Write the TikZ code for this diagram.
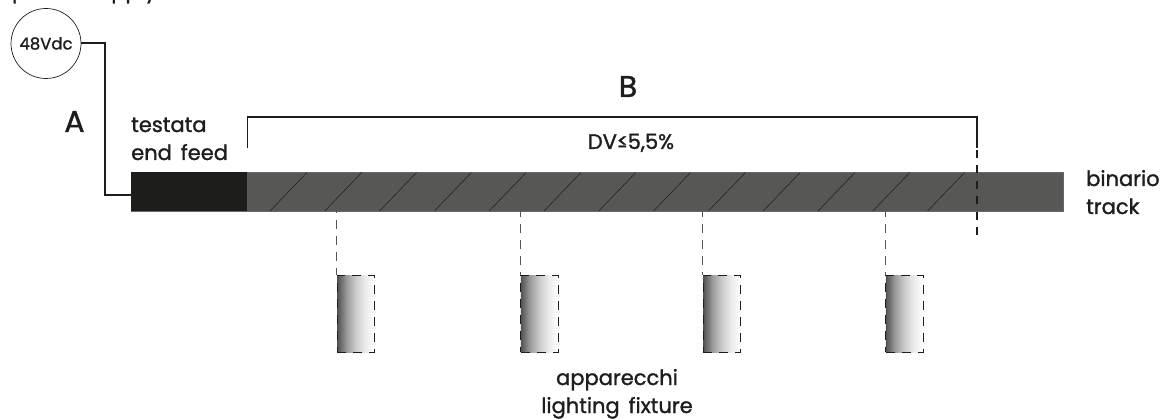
\documentclass[tikz,border=0pt]{standalone}
\usepackage{fontspec}
\setmainfont{Poppins}[FakeBold=1.3,WordSpace=1.6]
\definecolor{trackgray}{HTML}{575756}
\definecolor{feedblack}{HTML}{1D1D1B}
\pgfdeclarehorizontalshading{fixshade}{100bp}{color(0bp)=(black!68); color(25bp)=(black!68); color(37bp)=(black!40); color(50bp)=(black!20); color(62bp)=(black!8); color(75bp)=(white); color(100bp)=(white)}
\tikzset{
  lbl/.style={inner sep=0pt,text=feedblack,font=\fontsize{21}{28}\selectfont,align=left},
  biglbl/.style={inner sep=0pt,text=feedblack,font=\fontsize{30}{31}\selectfont},
  wire/.style={draw=feedblack,line width=1.3pt},
  hatch/.style={draw=feedblack,line width=0.5pt},
  dashwire/.style={draw=feedblack,line width=1.2pt,dash pattern=on 8pt off 7.5pt},
  thindash/.style={draw=feedblack!75,line width=1pt,dash pattern=on 9pt off 7pt,dash phase=3pt},
  fixture/.style={draw=feedblack,line width=0.9pt,dash pattern=on 9pt off 7pt,shading=fixshade,shading angle=0,minimum width=37.5pt,minimum height=77pt,inner sep=0pt,anchor=north west},
}
\begin{document}
\begin{tikzpicture}[x=1pt,y=-1pt]
\useasboundingbox (0,0) rectangle (1161,419);
\clip (0,0) rectangle (1161,419);
\node[lbl,anchor=base west] (ps) at (12,-2) {power supply};
\node[draw=feedblack,line width=0.7pt,circle,minimum size=70pt,inner sep=0pt,font=\fontsize{16.5}{18}\selectfont,text=feedblack] (vdc) at (46,43.5) {48Vdc};
\node[draw=trackgray!90!white,line width=0.8pt,fill=trackgray,minimum width=932pt,minimum height=39pt,inner sep=0pt,anchor=north west] (track) at (131,172) {};
\node[fill=feedblack,minimum width=116pt,minimum height=39pt,inner sep=0pt,anchor=north west] (feed) at (131,172) {};
\foreach \k in {0,...,12}{
  \draw[hatch] ({270+54.8*\k},211) -- ({307+54.8*\k},172.5);
}
\coordinate (wa) at (105,43);
\coordinate (wb) at (105,195);
\draw[wire] (vdc.east) ++(0,-0.5) -- (wa) -- (wb) -- (feed.west |- wb);
\coordinate (b1) at (247.5,148);
\coordinate (b2) at (247.5,117);
\coordinate (b3) at (977,117);
\coordinate (b4) at (977,148);
\coordinate (b5) at (977,236);
\draw[wire] (b1) -- (b2) -- (b3) -- (b4);
\draw[dashwire] (b4) ++(0,2) -- (b5);
\foreach \n/\x/\t in {f1/336.8/207,f2/520.3/211,f3/702.8/211,f4/885.3/211}{
  \node[fixture] (\n) at (\x,275) {};
  \coordinate (\n t) at (\x,\t);
  \draw[thindash] (\n t) -- (\n.north west);
}
\node[biglbl] (A) at (74.5,121.5) {A};
\node[biglbl] (B) at (628,86.5) {B};
\node[lbl,anchor=base west] (tf) at (131,160) {testata\\end feed};
\node[lbl,anchor=base] (dv) at (631,149) {DV≤5,5\%};
\node[lbl,anchor=base west] (bt) at (1086,214) {binario\\track};
\node[lbl,align=center,anchor=base] (lf) at (617,413) {apparecchi\\lighting fixture};
\end{tikzpicture}
\end{document}
